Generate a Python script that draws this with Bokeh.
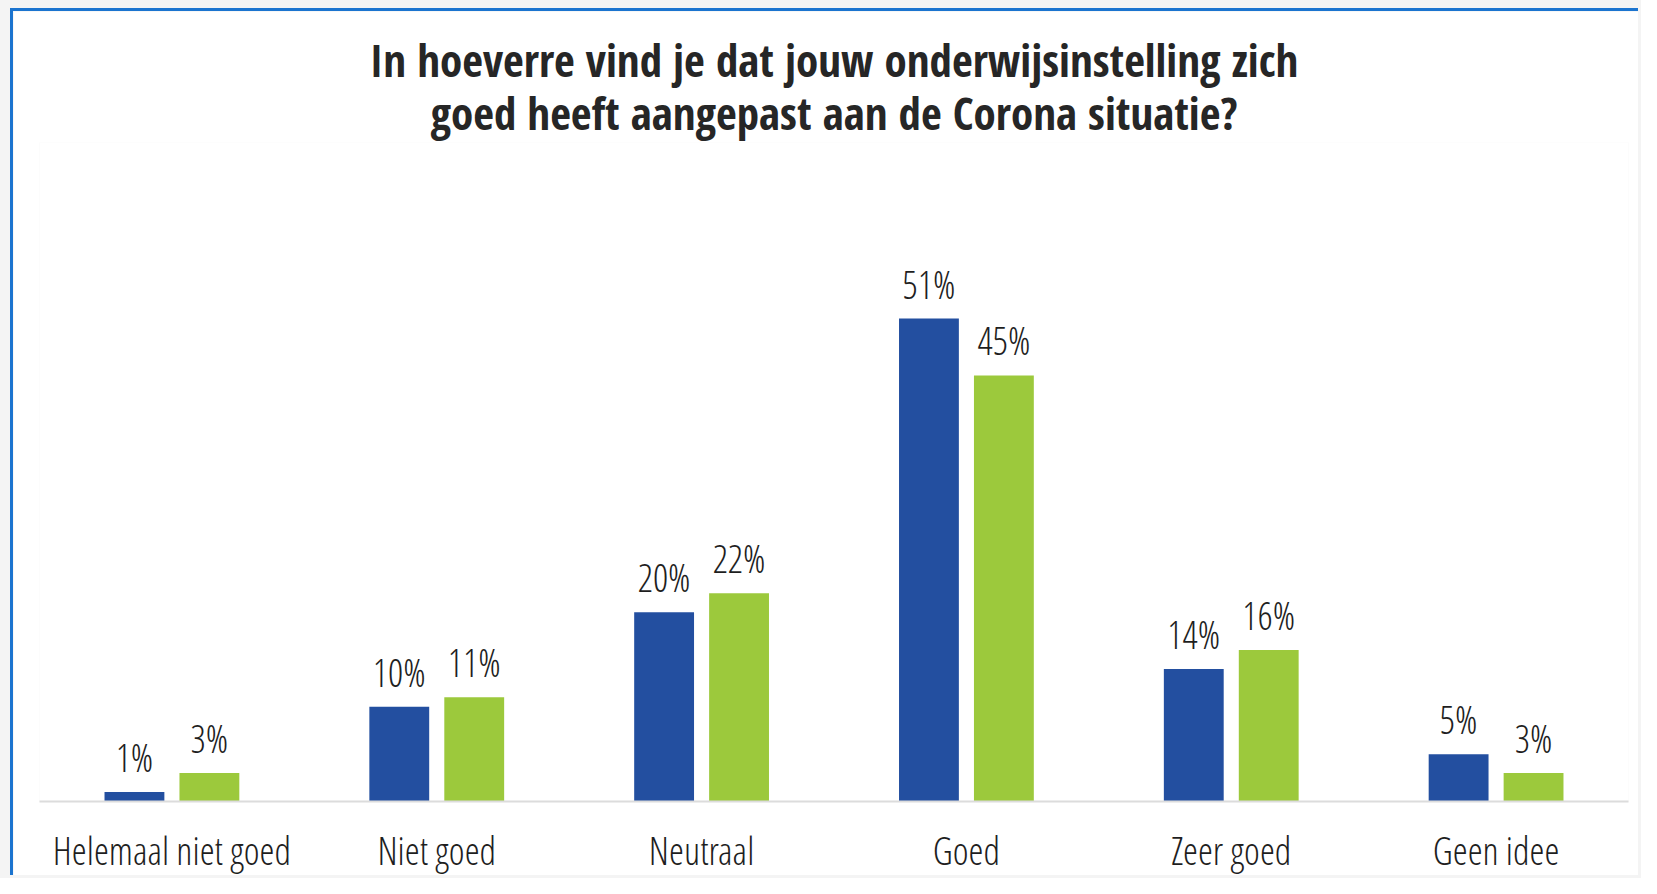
from bokeh.plotting import figure
from bokeh.layouts import column
from bokeh.models import ColumnDataSource, FactorRange, Range1d, Title, InlineStyleSheet
from bokeh.transform import dodge
from bokeh.core.properties import value
from bokeh.embed import file_html
from bokeh.resources import INLINE

categories = ["Helemaal niet goed", "Niet goed", "Neutraal", "Goed", "Zeer goed", "Geen idee"]
series_blue = [1, 10, 20, 51, 14, 5]
series_green = [3, 11, 22, 45, 16, 3]
title_lines = ["In hoeverre vind je dat jouw onderwijsinstelling zich",
               "goed heeft aangepast aan de Corona situatie?"]

BLUE = "#234fa0"
GREEN = "#9cc93c"
TEXT = "#1e1e1e"
TITLE_FONT = "Open Sans Condensed, Roboto Condensed, DejaVu Sans Condensed, Liberation Sans Narrow, Open Sans"
FONT = "Open Sans Condensed Light, Open Sans Condensed, Roboto Condensed, DejaVu Sans Condensed, Liberation Sans Narrow, Open Sans"

src = ColumnDataSource(dict(
    cat=categories,
    blue=series_blue,
    green=series_green,
    blue_lbl=[f"{v}%" for v in series_blue],
    green_lbl=[f"{v}%" for v in series_green],
))

p = figure(
    x_range=FactorRange(factors=categories, range_padding=0),
    y_range=Range1d(0, 69.6),
    width=1628, height=867,
    output_backend="svg", toolbar_location=None,
    min_border_left=26, min_border_right=13,
    min_border_top=131, min_border_bottom=76,
    background_fill_color="white", border_fill_color="white",
)
p.outline_line_color = None
p.xgrid.visible = False
p.ygrid.visible = False
p.yaxis.visible = False

title_style = dict(align="center", text_font=TITLE_FONT, text_font_style="bold",
                   text_font_size="45px", text_color="#262626")
p.title.text = title_lines[0]
for k, v in title_style.items():
    setattr(p.title, k, v)
p.title.standoff = -20
p.add_layout(Title(text=title_lines[1], standoff=0, **title_style), "above")

off = 0.1415
w = 0.226
p.vbar(x=dodge("cat", -off, range=p.x_range), top="blue", width=w, source=src,
       fill_color=BLUE, line_color=None)
p.vbar(x=dodge("cat", off, range=p.x_range), top="green", width=w, source=src,
       fill_color=GREEN, line_color=None)

for col, lbl, d in (("blue", "blue_lbl", -off), ("green", "green_lbl", off)):
    p.text(x=dodge("cat", d, range=p.x_range), y=col, text=lbl, source=src,
           text_align="center", text_baseline="alphabetic", y_offset=-35,
           text_font=value(FONT), text_font_size="38px", text_color=TEXT)

ax = p.xaxis[0]
ax.axis_line_color = "#dcdcdc"
ax.axis_line_width = 2
ax.major_tick_line_color = None
ax.minor_tick_line_color = None
ax.major_tick_out = 0
ax.major_tick_in = 0
ax.minor_tick_out = 0
ax.minor_tick_in = 0
ax.major_label_standoff = 22
ax.major_label_text_font = FONT
ax.major_label_text_font_size = "38px"
ax.major_label_text_color = TEXT

p.styles = {"border-top": "3px solid #1b74cf", "border-left": "3px solid #1b74cf"}
p.stylesheets = [InlineStyleSheet(css="""
text { font-stretch: condensed; }
text[font-weight="normal"] { font-weight: 300; }
""")]

page = column(p, width=1641, height=878,
              styles={"background-color": "#f4f4f4", "padding-left": "10px",
                      "padding-top": "8px", "box-sizing": "border-box"})

open("out.html", "w").write(file_html(page, INLINE))
